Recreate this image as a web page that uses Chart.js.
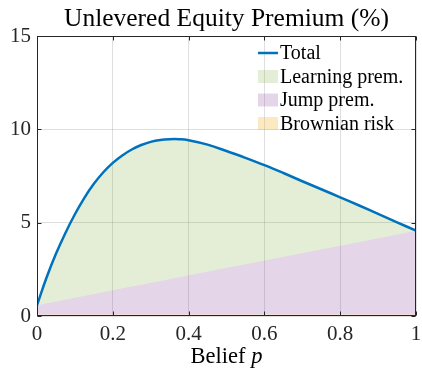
<!DOCTYPE html>
<html>
<head>
<meta charset="utf-8">
<script src="https://cdn.jsdelivr.net/npm/chart.js@4/dist/chart.umd.min.js"></script>
<style>
  html, body { margin: 0; padding: 0; background: #fff; }
  #wrap { width: 422px; height: 372px; }
</style>
</head>
<body>
<div id="wrap"><canvas id="c" width="422" height="372"></canvas></div>
<script>
// Belief grid and the premium components (in %)
const beliefs      = [0, 0.025, 0.05, 0.075, 0.1, 0.125, 0.15, 0.175, 0.2, 0.225, 0.25, 0.275, 0.3, 0.325, 0.35, 0.375, 0.4,
                      0.45, 0.5, 0.55, 0.6, 0.65, 0.7, 0.75, 0.8, 0.85, 0.9, 0.95, 1];
const totalPremium = [0.58, 2.05, 3.33, 4.45, 5.45, 6.33, 7.08, 7.7, 8.2, 8.6, 8.92, 9.16, 9.33, 9.43, 9.47, 9.47, 9.42,
                      9.18, 8.84, 8.47, 8.08, 7.66, 7.22, 6.79, 6.36, 5.92, 5.47, 5.02, 4.57];
const jumpPremium  = [0.50, 0.60, 0.70, 0.80, 0.90, 1.00, 1.10, 1.20, 1.30, 1.40, 1.50, 1.60, 1.70, 1.80, 1.90, 2.00, 2.10,
                      2.30, 2.50, 2.69, 2.89, 3.09, 3.29, 3.49, 3.69, 3.89, 4.09, 4.29, 4.49];
const brownianRisk = [0.08, 0.08, 0.08, 0.08, 0.08, 0.08, 0.08, 0.08, 0.08, 0.08, 0.08, 0.08, 0.08, 0.08, 0.08, 0.08, 0.08,
                      0.08, 0.08, 0.08, 0.08, 0.08, 0.08, 0.08, 0.08, 0.08, 0.08, 0.08, 0.08];

const xTickValues = [0, 0.2, 0.4, 0.6, 0.8, 1];
const yTickValues = [0, 5, 10, 15];

const chartTitle = 'Unlevered Equity Premium (%)';

const SERIF = '"Liberation Serif", "DejaVu Serif", serif';
const AXIS_COLOR = '#262626';

// Stacked band edges: Brownian at the bottom, Jump on it, Learning up to the total
const pts = (ys) => beliefs.map((x, i) => ({ x, y: ys[i] }));
const brownTop = brownianRisk.slice();
const jumpTop  = jumpPremium.map((v, i) => v + brownianRisk[i]);

const legendPlugin = {
  id: 'insideLegend',
  afterDatasetsDraw(chart) {
    const { ctx, chartArea } = chart;
    const x0 = chartArea.right - 158;
    const y0 = chartArea.top + 17;
    const step = 23.5;
    ctx.save();
    ctx.font = '20px ' + SERIF;
    ctx.textBaseline = 'middle';
    chart.data.datasets.forEach((ds, i) => {
      const y = y0 + i * step;
      if (ds.legendKind === 'line') {
        ctx.strokeStyle = ds.borderColor;
        ctx.lineWidth = 2.5;
        ctx.beginPath();
        ctx.moveTo(x0, y);
        ctx.lineTo(x0 + 20, y);
        ctx.stroke();
      } else {
        ctx.fillStyle = ds.backgroundColor;
        ctx.fillRect(x0, y - 6.5, 20, 13);
      }
      ctx.fillStyle = '#000';
      ctx.fillText(ds.label, x0 + 22, y + 1);
    });
    ctx.restore();
  }
};

const framePlugin = {
  id: 'boxFrame',
  afterDatasetsDraw(chart) {
    const { ctx, chartArea: a, scales } = chart;
    const L = Math.round(a.left) + 0.5, R = Math.round(a.right) - 0.5;
    const T = Math.round(a.top) + 0.5, B = Math.round(a.bottom) - 0.5;
    ctx.save();
    ctx.strokeStyle = AXIS_COLOR;
    ctx.lineWidth = 1;
    ctx.beginPath();
    const tl = 4;
    xTickValues.forEach(v => {
      const px = Math.round(scales.x.getPixelForValue(v)) + 0.5;
      ctx.moveTo(px, B); ctx.lineTo(px, B - tl);
      ctx.moveTo(px, T); ctx.lineTo(px, T + tl);
    });
    yTickValues.forEach(v => {
      const py = Math.round(scales.y.getPixelForValue(v)) + 0.5;
      ctx.moveTo(L, py); ctx.lineTo(L + tl, py);
      ctx.moveTo(R, py); ctx.lineTo(R - tl, py);
    });
    ctx.stroke();
    ctx.strokeRect(L, T, R - L, B - T);
    ctx.restore();
  }
};

// Title centred over the plot box, and x-axis title with an italic variable name
const titlesPlugin = {
  id: 'axesTitles',
  afterDraw(chart) {
    const { ctx, chartArea } = chart;
    const cx = (chartArea.left + chartArea.right) / 2;
    ctx.save();
    ctx.fillStyle = '#000';
    ctx.textBaseline = 'alphabetic';

    ctx.textAlign = 'center';
    ctx.font = '25.5px ' + SERIF;
    ctx.fillText(chartTitle, cx, 26);

    ctx.textAlign = 'left';
    const part1 = 'Belief ', part2 = 'p';
    ctx.font = '22.5px ' + SERIF;
    const w1 = ctx.measureText(part1).width;
    ctx.font = 'italic 22.5px ' + SERIF;
    const w2 = ctx.measureText(part2).width;
    const x = cx - (w1 + w2) / 2;
    const y = 363;
    ctx.font = '22.5px ' + SERIF;
    ctx.fillText(part1, x, y);
    ctx.font = 'italic 22.5px ' + SERIF;
    ctx.fillText(part2, x + w1, y);
    ctx.restore();
  }
};

const gridColor = 'rgba(38,38,38,0.15)';

new Chart(document.getElementById('c'), {
  type: 'line',
  data: {
    datasets: [
      { label: 'Total', legendKind: 'line', data: pts(totalPremium), borderColor: '#0072BD', borderWidth: 2.5,
        fill: false, pointRadius: 0, tension: 0.4 },
      { label: 'Learning prem.', data: pts(totalPremium), borderWidth: 0, borderColor: 'rgba(0,0,0,0)',
        backgroundColor: 'rgba(119,172,48,0.2)', fill: 2, pointRadius: 0, tension: 0.4 },
      { label: 'Jump prem.', data: pts(jumpTop), borderWidth: 0, borderColor: 'rgba(0,0,0,0)',
        backgroundColor: 'rgba(126,47,142,0.2)', fill: 3, pointRadius: 0, tension: 0 },
      { label: 'Brownian risk', data: pts(brownTop), borderWidth: 0, borderColor: 'rgba(0,0,0,0)',
        backgroundColor: 'rgba(237,177,32,0.28)', fill: 'origin', pointRadius: 0, tension: 0 }
    ]
  },
  options: {
    responsive: false,
    animation: false,
    devicePixelRatio: 1,
    layout: { padding: { left: 0, right: 6, top: 36, bottom: 0 } },
    plugins: {
      legend: { display: false },
      tooltip: { enabled: false },
      title: { display: false }
    },
    scales: {
      x: {
        type: 'linear', min: 0, max: 1,
        afterBuildTicks: s => { s.ticks = xTickValues.map(v => ({ value: v })); },
        afterFit: s => { s.height = 56; s.paddingLeft = 0; s.paddingRight = 0; },
        grid: { color: gridColor, drawTicks: false },
        border: { display: false },
        ticks: { color: '#262626', font: { family: SERIF, size: 21 }, padding: 6, maxRotation: 0,
                 callback: v => String(v) }
      },
      y: {
        min: 0, max: 15,
        afterBuildTicks: s => { s.ticks = yTickValues.map(v => ({ value: v })); },
        afterFit: s => { s.width = 37; s.paddingTop = 0; s.paddingBottom = 0; },
        grid: { color: gridColor, drawTicks: false },
        border: { display: false },
        ticks: { color: '#262626', font: { family: SERIF, size: 21 }, padding: 6,
                 callback: v => String(v) }
      }
    }
  },
  plugins: [legendPlugin, framePlugin, titlesPlugin]
});
</script>
</body>
</html>
